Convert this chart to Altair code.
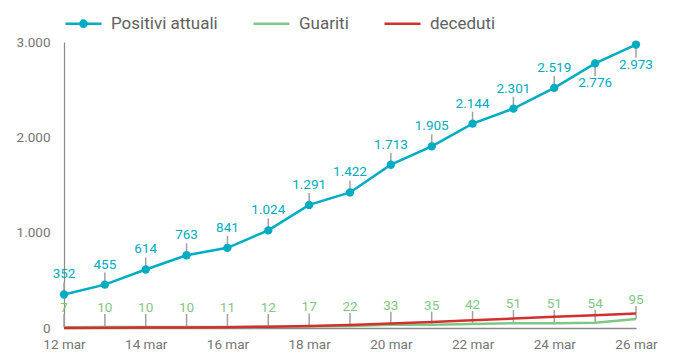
import altair as alt
import pandas as pd

days = list(range(12, 27))
positivi = [352, 455, 614, 763, 841, 1024, 1291, 1422, 1713, 1905, 2144, 2301, 2519, 2776, 2973]
guariti = [7, 10, 10, 10, 11, 12, 17, 22, 33, 35, 42, 51, 51, 54, 95]
deceduti = [1, 3, 4, 6, 9, 14, 20, 32, 48, 64, 82, 99, 118, 134, 151]
x_ticks = [12, 14, 16, 18, 20, 22, 24, 26]
y_ticks = [0, 1000, 2000, 3000]
series = ["Positivi attuali", "Guariti", "deceduti"]
colors = ["#00ACC1", "#81C784", "#D32F2F"]
below_days = [25, 26]


def it_fmt(v):
    return f"{v:,}".replace(",", ".")


rows = []
for s, vals in zip(series, [positivi, guariti, deceduti]):
    for d, v in zip(days, vals):
        rows.append({"day": d, "series": s, "value": v, "label": it_fmt(v),
                     "below": d in below_days})
df = pd.DataFrame(rows)

FONT = "Roboto"
GREY = "#757575"
TICK = "#a0a0a0"

x = alt.X("day:Q", scale=alt.Scale(domain=[12, 26], nice=False, zero=False),
          axis=alt.Axis(values=x_ticks, labelExpr="datum.value + ' mar'", grid=False,
                        ticks=False, domainColor="#8a8a8a", domainWidth=1.5,
                        labelColor=GREY, labelFontSize=13.5, labelPadding=9,
                        labelFlush=False, title=None, labelFont=FONT))
y = alt.Y("value:Q", scale=alt.Scale(domain=[0, 3000], nice=False),
          axis=alt.Axis(values=y_ticks,
                        labelExpr="replace(format(datum.value, ','), ',', '.')",
                        grid=False, ticks=False, domainColor="#8a8a8a", domainWidth=1.2,
                        labelColor=GREY, labelFontSize=13.5, labelPadding=14,
                        labelFlush=False, title=None, labelFont=FONT))

base = alt.Chart(df)
cscale = alt.Scale(domain=series, range=colors)

line_path = "M-1,0H1"
dot_path = ("M-1,0H1"
            "M0.172,0A0.172,0.172,0,1,1,-0.172,0A0.172,0.172,0,1,1,0.172,0"
            "M0.067,0A0.067,0.067,0,1,1,-0.067,0A0.067,0.067,0,1,1,0.067,0")
shape_range = [dot_path, line_path, line_path]

legend = alt.Legend(orient="none", legendX=0, legendY=-38, direction="horizontal",
                    title=None, symbolSize=1296, symbolStrokeWidth=2.5,
                    labelFontSize=17, labelColor="#616161", labelOffset=8,
                    columnPadding=30, padding=0, labelFont=FONT, symbolOpacity=1,
                    symbolFillColor="transparent")

pos = base.transform_filter(alt.datum.series == "Positivi attuali")
gua = base.transform_filter(alt.datum.series == "Guariti")

pos_ticks_up = pos.transform_filter("!datum.below").mark_rule(
    yOffset=-12, color=TICK, strokeWidth=1.5).encode(x=x, y=y, y2=alt.Y2("value:Q"))
pos_ticks_dn = pos.transform_filter("datum.below").mark_rule(
    y2Offset=13, color=TICK, strokeWidth=1.5).encode(x=x, y=y, y2=alt.Y2("value:Q"))
gua_ticks = gua.mark_rule(yOffset=-13, color=TICK, strokeWidth=1.5).encode(
    x=x, y=y, y2=alt.Y2("value:Q"))

lines = base.mark_line(strokeWidth=2.5).encode(
    x=x, y=y,
    color=alt.Color("series:N", scale=cscale, legend=legend),
    order=alt.Order("day:Q"))

legend_layer = base.mark_point(filled=False, strokeWidth=2.5, opacity=0).encode(
    x=x, y=y,
    color=alt.Color("series:N", scale=cscale, legend=legend),
    shape=alt.Shape("series:N", scale=alt.Scale(domain=series, range=shape_range),
                    legend=legend))

points = pos.mark_circle(size=70, opacity=1, color=colors[0]).encode(x=x, y=y)

pos_lab_up = pos.transform_filter("!datum.below").mark_text(
    dy=-20, fontSize=13.5, color=colors[0], font=FONT).encode(x=x, y=y, text="label:N")
pos_lab_dn = pos.transform_filter("datum.below").mark_text(
    dy=20, fontSize=13.5, color=colors[0], font=FONT).encode(x=x, y=y, text="label:N")
gua_lab = gua.mark_text(dy=-19, fontSize=13.5, color=colors[1], font=FONT).encode(
    x=x, y=y, text="label:N")

chart = alt.layer(
    pos_ticks_up, pos_ticks_dn, gua_ticks, lines, legend_layer, points,
    pos_lab_up, pos_lab_dn, gua_lab
).properties(
    width=572, height=286,
    padding={"left": 56, "top": 34, "right": 25, "bottom": 26},
    autosize=alt.AutoSizeParams(type="none"),
).configure(font=FONT).configure_view(stroke=None)

chart.save("out.html", embed_options={"renderer": "svg", "actions": False})
